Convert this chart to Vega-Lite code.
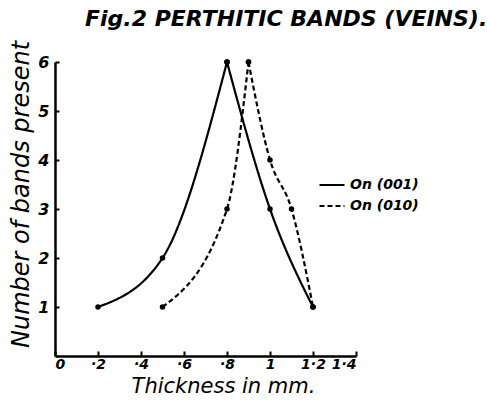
{
  "$schema": "https://vega.github.io/schema/vega-lite/v6.json",
  "width": 301,
  "height": 294,
  "autosize": {"type": "none"},
  "padding": {"left": 55, "top": 62, "right": 131, "bottom": 44},
  "background": "white",
  "title": {
    "text": "Fig.2  PERTHITIC BANDS (VEINS).",
    "anchor": "start",
    "frame": "group",
    "dx": 30,
    "offset": 9,
    "font": "DejaVu Sans",
    "fontStyle": "italic",
    "fontWeight": "bold",
    "fontSize": 22,
    "color": "black"
  },
  "config": {
    "view": {"stroke": null},
    "axis": {
      "domainColor": "black",
      "domainWidth": 2.5,
      "tickColor": "black",
      "tickWidth": 2,
      "grid": false,
      "labelColor": "black",
      "titleColor": "black",
      "labelFont": "DejaVu Sans",
      "titleFont": "DejaVu Sans",
      "labelFontStyle": "italic",
      "titleFontStyle": "italic",
      "labelFontWeight": "bold",
      "titleFontWeight": "normal",
      "labelOverlap": false
    }
  },
  "data": {
    "values": [
      {"series": "On (001)", "segment": "a1", "thickness": 0.2, "bands": 1},
      {"series": "On (001)", "segment": "a1", "thickness": 0.5, "bands": 2},
      {"series": "On (001)", "segment": "a1", "thickness": 0.8, "bands": 6},
      {"series": "On (001)", "segment": "a2", "thickness": 0.8, "bands": 6},
      {"series": "On (001)", "segment": "a2", "thickness": 1.0, "bands": 3},
      {"series": "On (001)", "segment": "a2", "thickness": 1.2, "bands": 1},
      {"series": "On (010)", "segment": "b1", "thickness": 0.5, "bands": 1},
      {"series": "On (010)", "segment": "b1", "thickness": 0.8, "bands": 3},
      {"series": "On (010)", "segment": "b1", "thickness": 0.9, "bands": 6},
      {"series": "On (010)", "segment": "b2", "thickness": 0.9, "bands": 6},
      {"series": "On (010)", "segment": "b2", "thickness": 1.0, "bands": 4},
      {"series": "On (010)", "segment": "b2", "thickness": 1.1, "bands": 3},
      {"series": "On (010)", "segment": "b2", "thickness": 1.2, "bands": 1}
    ]
  },
  "encoding": {
    "x": {
      "field": "thickness",
      "type": "quantitative",
      "scale": {"domain": [0, 1.4], "nice": false, "zero": true},
      "axis": {
        "title": "Thickness in mm.",
        "values": [0, 0.2, 0.4, 0.6, 0.8, 1, 1.2, 1.4],
        "labelExpr": "datum.value == 0 ? '0' : datum.value < 0.95 ? '·' + format(datum.value * 10, '.0f') : datum.value < 1.05 ? '1' : replace(format(datum.value, '.1f'), '.', '·')",
        "tickSize": -5,
        "labelPadding": 6,
        "labelFontSize": 14,
        "titleFontSize": 21,
        "titlePadding": 4,
        "titleX": 168
      }
    },
    "y": {
      "field": "bands",
      "type": "quantitative",
      "scale": {"domain": [0, 6], "nice": false},
      "axis": {
        "title": "Number of bands present",
        "values": [1, 2, 3, 4, 5, 6],
        "tickSize": -4,
        "labelPadding": 10,
        "labelFontSize": 16,
        "titleFontSize": 24,
        "titlePadding": 4,
        "titleY": 132
      }
    }
  },
  "layer": [
    {
      "mark": {"type": "line", "interpolate": "monotone", "color": "black", "strokeWidth": 2.2},
      "encoding": {
        "detail": {"field": "segment"},
        "strokeDash": {
          "field": "series",
          "type": "nominal",
          "scale": {"domain": ["On (001)", "On (010)"], "range": [[1, 0], [5, 3]]},
          "legend": {
            "title": null,
            "orient": "none",
            "legendX": 263,
            "legendY": 109,
            "symbolType": "stroke",
            "symbolSize": 625,
            "symbolStrokeColor": "black",
            "symbolStrokeWidth": 2.2,
            "labelFont": "DejaVu Sans",
            "labelFontStyle": "italic",
            "labelFontWeight": "bold",
            "labelFontSize": 14,
            "labelColor": "black",
            "rowPadding": -5
          }
        }
      }
    },
    {
      "mark": {"type": "point", "filled": true, "color": "black", "size": 30, "opacity": 1},
      "encoding": {}
    }
  ]
}
